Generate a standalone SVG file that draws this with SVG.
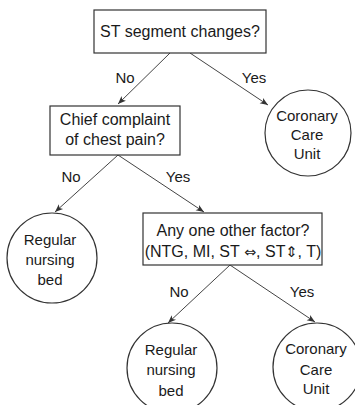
<svg xmlns="http://www.w3.org/2000/svg" width="355" height="405" viewBox="0 0 355 405">
<defs>
<style>
.box{fill:#fff;stroke:#333;stroke-width:1.2}
.t{font-family:"Liberation Sans",Arial,"DejaVu Sans",sans-serif;font-size:16px;fill:#1a1a1a;text-anchor:middle}
.c{font-size:15px}
.a{font-family:"DejaVu Sans",sans-serif;font-size:14.5px}
.l{font-family:"Liberation Sans",Arial,sans-serif;font-size:15px;fill:#1a1a1a;text-anchor:middle}
.e{fill:none;stroke:#444;stroke-width:1}
</style>
<marker id="ah" viewBox="0 0 10 10" refX="10" refY="5" markerWidth="8" markerHeight="8" orient="auto" markerUnits="userSpaceOnUse">
<path d="M0,1 L10,5 L0,9 L2.5,5 Z" fill="#333"/>
</marker>
</defs>
<rect width="355" height="405" fill="#fff"/>
<g id="connectors">
<line class="e" x1="170" y1="53" x2="118" y2="104" marker-end="url(#ah)"/>
<line class="e" x1="190" y1="53" x2="268" y2="105" marker-end="url(#ah)"/>
<line class="e" x1="118" y1="155" x2="55" y2="212" marker-end="url(#ah)"/>
<line class="e" x1="118" y1="155" x2="204" y2="212" marker-end="url(#ah)"/>
<line class="e" x1="230" y1="265" x2="168" y2="323" marker-end="url(#ah)"/>
<line class="e" x1="230" y1="265" x2="315" y2="322" marker-end="url(#ah)"/>
<text class="l" x="125" y="83">No</text>
<text class="l" x="254" y="83">Yes</text>
<text class="l" x="71" y="182">No</text>
<text class="l" x="178" y="182">Yes</text>
<text class="l" x="179" y="297">No</text>
<text class="l" x="302" y="297">Yes</text>
</g>
<g id="n1">
<rect class="box" x="94" y="10" width="172" height="43"/>
<text class="t" x="180" y="37">ST segment changes?</text>
</g>
<g id="n2">
<rect class="box" x="50" y="106" width="130" height="49"/>
<text class="t" x="115" y="125">Chief complaint</text>
<text class="t" x="115" y="145">of chest pain?</text>
</g>
<g id="n3">
<circle class="box" cx="308" cy="133" r="43"/>
<text class="t c" x="307" y="121">Coronary</text>
<text class="t c" x="307" y="140">Care</text>
<text class="t c" x="307" y="159">Unit</text>
</g>
<g id="n4">
<circle class="box" cx="52" cy="258" r="45"/>
<text class="t c" x="50" y="245">Regular</text>
<text class="t c" x="50" y="265">nursing</text>
<text class="t c" x="50" y="285">bed</text>
</g>
<g id="n5">
<rect class="box" x="143" y="213" width="179" height="52"/>
<text class="t" x="233" y="236">Any one other factor?</text>
<text class="t" x="233" y="257">(NTG, MI, ST <tspan class="a">⇔</tspan>, ST<tspan class="a">⇕</tspan>, T)</text>
</g>
<g id="n6">
<circle class="box" cx="172" cy="368" r="45"/>
<text class="t c" x="171" y="355">Regular</text>
<text class="t c" x="171" y="375">nursing</text>
<text class="t c" x="171" y="396">bed</text>
</g>
<g id="n7">
<circle class="box" cx="317" cy="367" r="44"/>
<text class="t c" x="316" y="354">Coronary</text>
<text class="t c" x="316" y="375">Care</text>
<text class="t c" x="316" y="394">Unit</text>
</g>
</svg>
